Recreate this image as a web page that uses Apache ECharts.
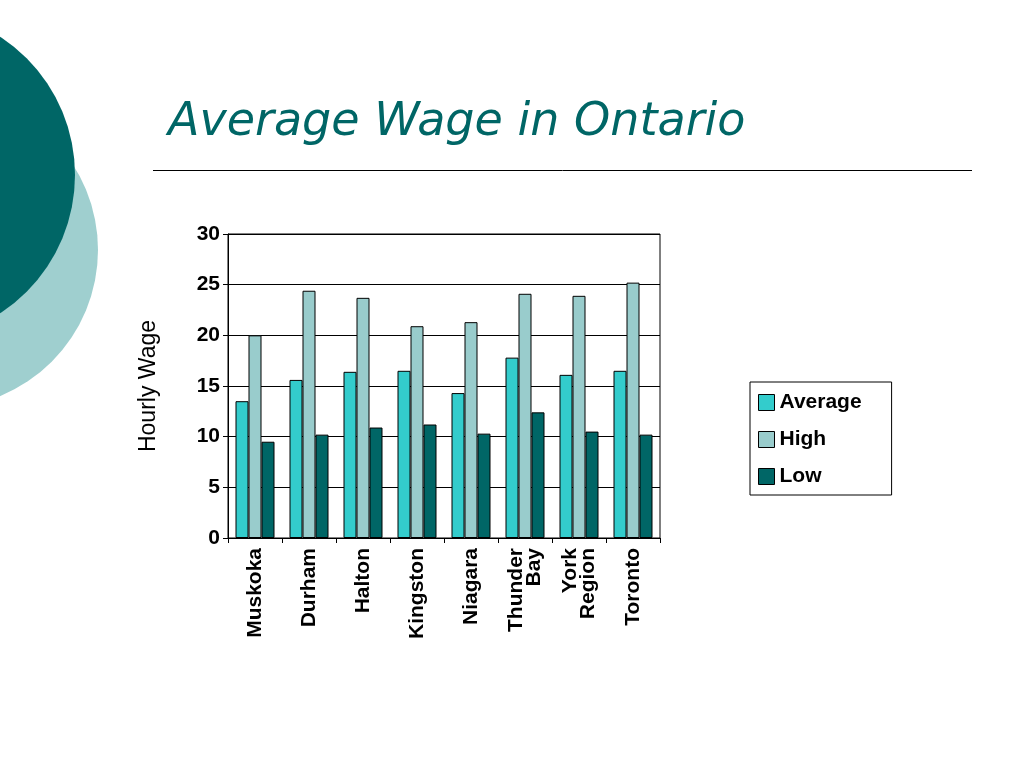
<!DOCTYPE html>
<html>
<head>
<meta charset="utf-8">
<script src="https://cdn.jsdelivr.net/npm/echarts@6/dist/echarts.min.js"></script>
<style>html,body{margin:0;padding:0;background:#fff}#c{width:1024px;height:768px}</style>
</head>
<body>
<div id="c"></div>
<script>
// chart data
const regions = ['Muskoka', 'Durham', 'Halton', 'Kingston', 'Niagara', 'Thunder\nBay', 'York\nRegion', 'Toronto'];
const average = [13.5, 15.6, 16.4, 16.5, 14.3, 17.8, 16.1, 16.5];
const high = [20.0, 24.4, 23.7, 20.9, 21.3, 24.1, 23.9, 25.2];
const low = [9.5, 10.2, 10.9, 11.2, 10.3, 12.4, 10.5, 10.2];

const chart = echarts.init(document.getElementById('c'));
const barStyle = c => ({ color: c, borderColor: '#000', borderWidth: 1 });
chart.setOption({
  backgroundColor: '#fff',
  animation: false,
  graphic: [
    { type: 'circle', shape: { cx: -60, cy: 250, r: 158 }, style: { fill: '#9fcfcf' } },
    { type: 'circle', shape: { cx: -90, cy: 175, r: 165 }, style: { fill: '#006666' } },
    { type: 'text', left: 168, top: 100, style: { text: 'Average Wage in Ontario', fill: '#006666', font: 'italic 46px "DejaVu Sans"' } },
    { type: 'line', shape: { x1: 153, y1: 170.5, x2: 972, y2: 170.5 }, style: { stroke: '#000', lineWidth: 1 } }
  ],
  grid: { left: 228, right: 364, top: 234, bottom: 230, show: true, borderColor: '#000', backgroundColor: '#fff' },
  legend: {
    orient: 'vertical', left: 750, top: 382, padding: [10, 30, 8, 8], itemGap: 16,
    borderColor: '#000', borderWidth: 1, itemWidth: 16, itemHeight: 16, icon: 'rect',
    itemStyle: { borderColor: '#000', borderWidth: 1 },
    textStyle: { fontFamily: 'Liberation Sans', fontWeight: 'bold', fontSize: 21, color: '#000' },
    data: ['Average', 'High', 'Low']
  },
  xAxis: {
    type: 'category', data: regions,
    axisLine: { lineStyle: { color: '#000' } },
    axisTick: { show: true, lineStyle: { color: '#000' } },
    axisLabel: { rotate: 90, interval: 0, margin: 10, color: '#000', fontFamily: 'Liberation Sans', fontWeight: 'bold', fontSize: 21, lineHeight: 18 }
  },
  yAxis: {
    type: 'value', min: 0, max: 30, interval: 5,
    name: 'Hourly Wage', nameLocation: 'middle', nameGap: 68,
    nameTextStyle: { fontFamily: 'Liberation Sans', fontSize: 23, color: '#000' },
    axisLine: { show: true, lineStyle: { color: '#000' } },
    axisTick: { show: true, lineStyle: { color: '#000' } },
    axisLabel: { color: '#000', fontFamily: 'Liberation Sans', fontWeight: 'bold', fontSize: 21 },
    splitLine: { lineStyle: { color: '#000' } }
  },
  series: [
    { name: 'Average', type: 'bar', data: average, itemStyle: barStyle('#33cccc'), barWidth: 13, barGap: '0%' },
    { name: 'High', type: 'bar', data: high, itemStyle: barStyle('#99cccc'), barWidth: 13 },
    { name: 'Low', type: 'bar', data: low, itemStyle: barStyle('#006666'), barWidth: 13 }
  ]
});
</script>
</body>
</html>
